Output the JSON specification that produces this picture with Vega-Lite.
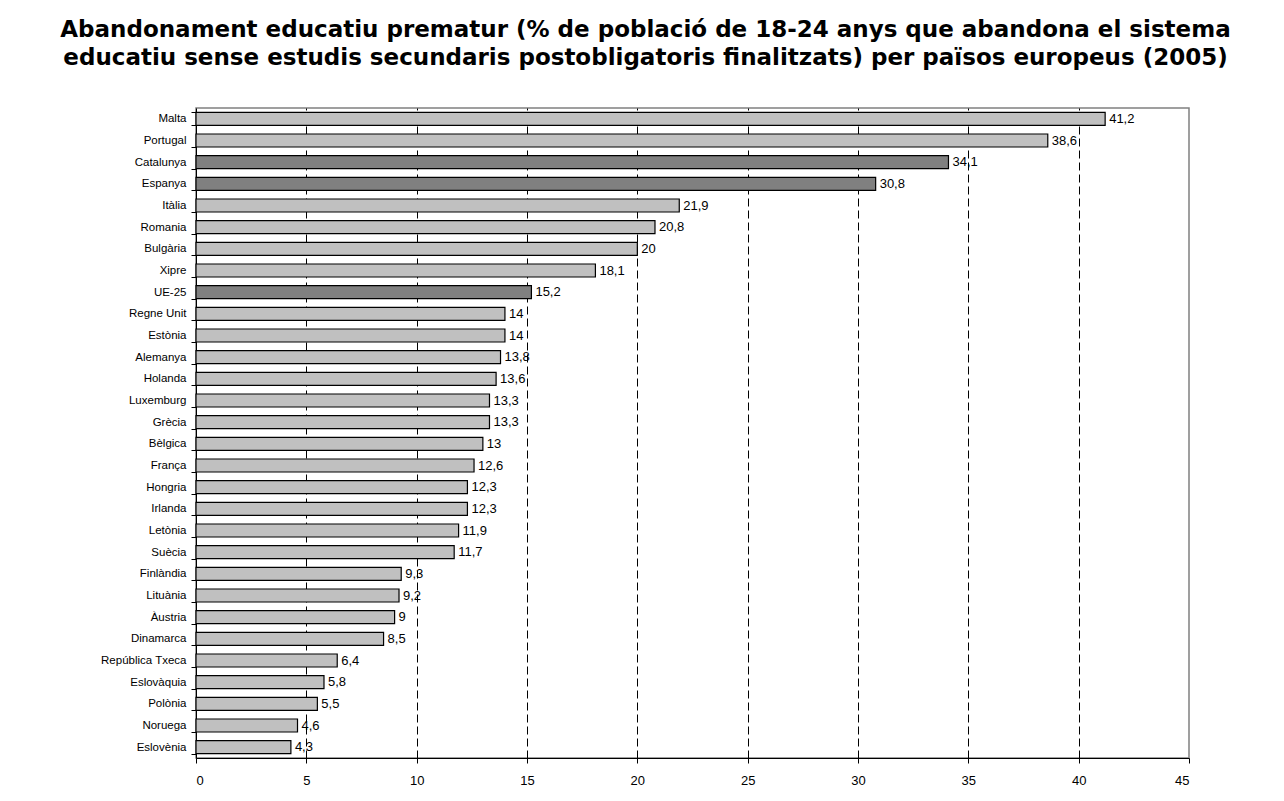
{
  "$schema": "https://vega.github.io/schema/vega-lite/v6.json",
  "autosize": {"type": "none"},
  "width": 993,
  "height": 650,
  "padding": {"left": 196, "top": 108, "right": 95, "bottom": 43},
  "background": "white",
  "title": {
    "text": ["Abandonament educatiu prematur (% de població de 18-24 anys que abandona el sistema", "educatiu sense estudis secundaris postobligatoris finalitzats) per països europeus (2005)"],
    "anchor": "middle",
    "frame": "group",
    "dx": -47,
    "offset": 32,
    "font": "DejaVu Sans",
    "fontSize": 23,
    "fontWeight": "bold",
    "color": "black",
    "lineHeight": 28
  },
  "data": {
    "values": [
      {"pais": "Malta", "valor": 41.2, "tipus": "altres"},
      {"pais": "Portugal", "valor": 38.6, "tipus": "altres"},
      {"pais": "Catalunya", "valor": 34.1, "tipus": "destacat"},
      {"pais": "Espanya", "valor": 30.8, "tipus": "destacat"},
      {"pais": "Itàlia", "valor": 21.9, "tipus": "altres"},
      {"pais": "Romania", "valor": 20.8, "tipus": "altres"},
      {"pais": "Bulgària", "valor": 20, "tipus": "altres"},
      {"pais": "Xipre", "valor": 18.1, "tipus": "altres"},
      {"pais": "UE-25", "valor": 15.2, "tipus": "destacat"},
      {"pais": "Regne Unit", "valor": 14, "tipus": "altres"},
      {"pais": "Estònia", "valor": 14, "tipus": "altres"},
      {"pais": "Alemanya", "valor": 13.8, "tipus": "altres"},
      {"pais": "Holanda", "valor": 13.6, "tipus": "altres"},
      {"pais": "Luxemburg", "valor": 13.3, "tipus": "altres"},
      {"pais": "Grècia", "valor": 13.3, "tipus": "altres"},
      {"pais": "Bèlgica", "valor": 13, "tipus": "altres"},
      {"pais": "França", "valor": 12.6, "tipus": "altres"},
      {"pais": "Hongria", "valor": 12.3, "tipus": "altres"},
      {"pais": "Irlanda", "valor": 12.3, "tipus": "altres"},
      {"pais": "Letònia", "valor": 11.9, "tipus": "altres"},
      {"pais": "Suècia", "valor": 11.7, "tipus": "altres"},
      {"pais": "Finlàndia", "valor": 9.3, "tipus": "altres"},
      {"pais": "Lituània", "valor": 9.2, "tipus": "altres"},
      {"pais": "Àustria", "valor": 9, "tipus": "altres"},
      {"pais": "Dinamarca", "valor": 8.5, "tipus": "altres"},
      {"pais": "República Txeca", "valor": 6.4, "tipus": "altres"},
      {"pais": "Eslovàquia", "valor": 5.8, "tipus": "altres"},
      {"pais": "Polònia", "valor": 5.5, "tipus": "altres"},
      {"pais": "Noruega", "valor": 4.6, "tipus": "altres"},
      {"pais": "Eslovènia", "valor": 4.3, "tipus": "altres"}
    ]
  },
  "encoding": {
    "y": {
      "field": "pais",
      "type": "nominal",
      "sort": null,
      "scale": {"paddingInner": 0.4, "paddingOuter": 0.2},
      "axis": {
        "title": null,
        "domainColor": "black",
        "tickColor": "black",
        "tickSize": 5,
        "tickBand": "extent",
        "labelFont": "Liberation Sans",
        "labelFontSize": 11.5,
        "labelColor": "black",
        "labelPadding": 5,
        "grid": false
      }
    },
    "x": {
      "field": "valor",
      "type": "quantitative",
      "scale": {"domain": [0, 45], "nice": false},
      "axis": {
        "title": null,
        "values": [0, 5, 10, 15, 20, 25, 30, 35, 40, 45],
        "domainColor": "black",
        "tickColor": "black",
        "tickSize": 5,
        "labelFont": "Liberation Sans",
        "labelFontSize": 13,
        "labelColor": "black",
        "labelPadding": 11,
        "grid": true,
        "gridColor": "black",
        "gridDash": [8, 4],
        "gridOpacity": {"condition": {"test": "datum.value == 0 || datum.value == 45", "value": 0}, "value": 1}
      }
    }
  },
  "layer": [
    {
      "mark": {"type": "bar", "stroke": "black", "strokeWidth": 1.2},
      "encoding": {
        "color": {
          "field": "tipus",
          "type": "nominal",
          "scale": {"domain": ["altres", "destacat"], "range": ["#C0C0C0", "#808080"]},
          "legend": null
        }
      }
    },
    {
      "mark": {"type": "text", "align": "left", "baseline": "middle", "dx": 4, "font": "Liberation Sans", "fontSize": 13, "color": "black"},
      "encoding": {
        "text": {"field": "valor", "type": "quantitative", "format": "~g"}
      }
    }
  ],
  "config": {
    "view": {"stroke": "#808080", "strokeWidth": 1.5},
    "locale": {
      "number": {"decimal": ",", "thousands": ".", "grouping": [3], "currency": ["", " €"]}
    }
  }
}
